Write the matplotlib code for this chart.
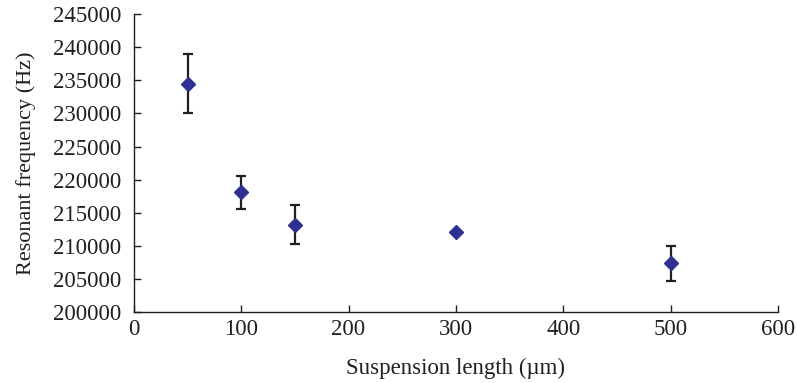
import matplotlib
matplotlib.use("Agg")
import matplotlib.pyplot as plt

length_um = [50, 100, 150, 300, 500]
freq_hz = [234500, 218100, 213200, 212100, 207400]
err_hz = [4450, 2450, 2950, 0, 2650]

x_ticks = [0, 100, 200, 300, 400, 500, 600]
y_ticks = [200000, 205000, 210000, 215000, 220000, 225000, 230000, 235000, 240000, 245000]

plt.rcParams['font.family'] = ['Liberation Serif', 'DejaVu Serif']

fig = plt.figure(figsize=(7.97, 3.83), dpi=100)
ax = fig.add_axes([0.168, 0.185, 0.808, 0.778])

ax.errorbar(length_um, freq_hz, yerr=err_hz, fmt='D', color='#2E3192',
            markersize=7.5, ecolor='#231F20', elinewidth=1.6, capsize=3.8,
            capthick=1.6, zorder=3)

ax.set_xlim(0, 600)
ax.set_ylim(200000, 245000)
ax.set_xticks(x_ticks)
ax.set_yticks(y_ticks)
ax.set_xticklabels([str(v) for v in x_ticks])
ax.set_yticklabels([str(v) for v in y_ticks])

for s in ['top', 'right']:
    ax.spines[s].set_visible(False)
for s in ['left', 'bottom']:
    ax.spines[s].set_color('#231F20')
    ax.spines[s].set_linewidth(1.0)

ax.tick_params(axis='both', direction='in', length=5, width=1.0, color='#231F20',
               labelsize=16.5, labelcolor='#231F20')
ax.tick_params(axis='y', pad=9)
ax.tick_params(axis='x', pad=5)

ax.set_xlabel('Suspension length (µm)', fontsize=16.5, color='#231F20', labelpad=13)
ax.set_ylabel('Resonant frequency (Hz)', fontsize=16, color='#231F20', labelpad=12)

fig.savefig('out.png', dpi=100)
